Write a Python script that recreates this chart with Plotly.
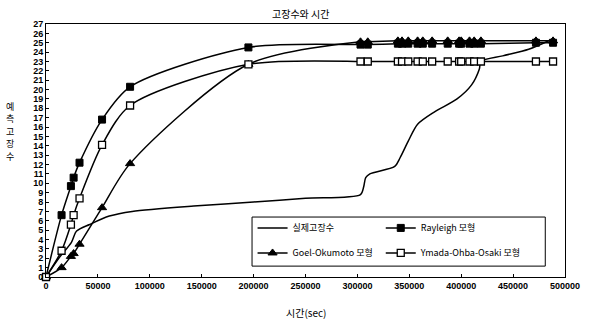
import plotly.graph_objects as go

# ---- data ----
model_time = [0, 15000, 24000, 26600, 32300, 54000, 81000, 195000,
              303000, 310000, 339000, 343000, 349000, 358000, 363000, 372000,
              387000, 398000, 400000, 408000, 412500, 419000, 472000, 488500]
rayleigh = [0, 6.6, 9.7, 10.6, 12.2, 16.8, 20.3, 24.5,
            24.8, 24.8, 24.9, 24.9, 24.9, 24.9, 24.9, 24.9,
            24.9, 24.9, 24.9, 24.9, 24.9, 24.9, 25.0, 25.0]
goel = [0, 1.0, 2.2, 2.5, 3.5, 7.4, 12.1, 22.7,
        25.1, 25.1, 25.2, 25.2, 25.2, 25.2, 25.2, 25.2,
        25.2, 25.2, 25.2, 25.2, 25.2, 25.2, 25.2, 25.2]
ymada = [0, 2.8, 5.6, 6.6, 8.4, 14.1, 18.3, 22.7,
         23.0, 23.0, 23.0, 23.0, 23.0, 23.0, 23.0, 23.0,
         23.0, 23.0, 23.0, 23.0, 23.0, 23.0, 23.0, 23.0]

actual_time = [0, 13000, 24500, 29500, 42000, 61000, 83000, 146000, 200000,
               250000, 303000, 306000, 308000, 312000, 336000, 341000, 349000,
               358000, 374000, 396000, 410000, 417500, 419000, 440000, 465000, 488000]
actual_count = [0, 2.1, 3.7, 4.9, 5.6, 6.5, 7.0, 7.6, 8.0,
                8.4, 8.8, 9.6, 10.6, 11.0, 11.8, 12.7, 14.5,
                16.3, 17.6, 19.0, 20.5, 22.2, 23.0, 23.6, 24.3, 25.4]

names = ["실제고장수", "Rayleigh 모형", "Goel-Okumoto 모형", "Ymada-Ohba-Osaki 모형"]
y_title_chars = ["예", "측", "고", "장", "수"]
x_ticks = [0, 50000, 100000, 150000, 200000, 250000, 300000, 350000, 400000, 450000, 500000]
y_ticks = list(range(0, 28))

FONT = "Liberation Sans, Arial, sans-serif"
KFONT = "Noto Sans CJK KR, Liberation Sans, sans-serif"

fig = go.Figure()
fig.add_trace(go.Scatter(x=actual_time, y=actual_count, mode="lines", name=names[0],
                         line=dict(color="black", width=1.5, shape="spline", smoothing=0.8),
                         legend="legend", cliponaxis=False))
fig.add_trace(go.Scatter(x=model_time, y=rayleigh, mode="lines+markers", name=names[1],
                         line=dict(color="black", width=1.5, shape="spline", smoothing=0.8),
                         marker=dict(symbol="square", size=7, color="black",
                                     line=dict(color="black", width=1)),
                         legend="legend2", cliponaxis=False))
fig.add_trace(go.Scatter(x=model_time, y=goel, mode="lines+markers", name=names[2],
                         line=dict(color="black", width=1.5, shape="spline", smoothing=0.8),
                         marker=dict(symbol="triangle-up", size=8, color="black",
                                     line=dict(color="black", width=1)),
                         legend="legend3", cliponaxis=False))
fig.add_trace(go.Scatter(x=model_time, y=ymada, mode="lines+markers", name=names[3],
                         line=dict(color="black", width=1.5, shape="spline", smoothing=0.8),
                         marker=dict(symbol="square", size=7, color="white",
                                     line=dict(color="black", width=1.3)),
                         legend="legend4", cliponaxis=False))

leg_common = dict(bgcolor="rgba(0,0,0,0)", borderwidth=0,
                  font=dict(family=KFONT, size=9, color="black"),
                  xanchor="left", yanchor="middle")

# plot area in pixels: left 46, right 573, top 24, bottom 277
annotations = [
    dict(text="고장수와 시간", xref="paper", yref="paper", x=0.491, y=1.043,
         showarrow=False, xanchor="center", yanchor="middle",
         font=dict(family=KFONT, size=10, color="black")),
    dict(text="시간(sec)", xref="paper", yref="paper", x=0.501, y=-0.142,
         showarrow=False, xanchor="center", yanchor="middle",
         font=dict(family=KFONT, size=10, color="black")),
]
for i, ch in enumerate(y_title_chars):
    py = 106 + i * 12.5
    annotations.append(dict(text=ch, xref="paper", yref="paper",
                            x=(9 - 46) / 527, y=(277 - py) / 253,
                            showarrow=False, xanchor="center", yanchor="middle",
                            font=dict(family=KFONT, size=9, color="black")))

fig.update_layout(
    width=592, height=321,
    margin=dict(l=46, r=19, t=24, b=44),
    paper_bgcolor="white", plot_bgcolor="white",
    showlegend=True,
    legend=dict(x=0.398, y=0.194, **leg_common),
    legend2=dict(x=0.645, y=0.194, **leg_common),
    legend3=dict(x=0.398, y=0.095, **leg_common),
    legend4=dict(x=0.645, y=0.095, **leg_common),
    xaxis=dict(range=[0, 500000], tickvals=x_ticks, ticktext=[str(v) for v in x_ticks],
               showline=True, linecolor="black", linewidth=1, mirror=True,
               ticks="inside", ticklen=3, tickcolor="black",
               showgrid=False, zeroline=False,
               tickfont=dict(family=FONT, size=9, color="black", weight="bold")),
    yaxis=dict(range=[0, 27], tickvals=y_ticks, ticktext=[str(v) for v in y_ticks],
               showline=True, linecolor="black", linewidth=1, mirror=True,
               ticks="inside", ticklen=3, tickcolor="black",
               showgrid=False, zeroline=False,
               tickfont=dict(family=FONT, size=9, color="black", weight="bold")),
    shapes=[dict(type="rect", xref="paper", yref="paper",
                 x0=0.397, x1=0.962, y0=0.043, y1=0.237,
                 line=dict(color="black", width=1))],
    annotations=annotations,
)

fig.write_html("out.html", config={"displayModeBar": False},
               post_script="document.body.style.margin='0';document.body.style.padding='0';")
